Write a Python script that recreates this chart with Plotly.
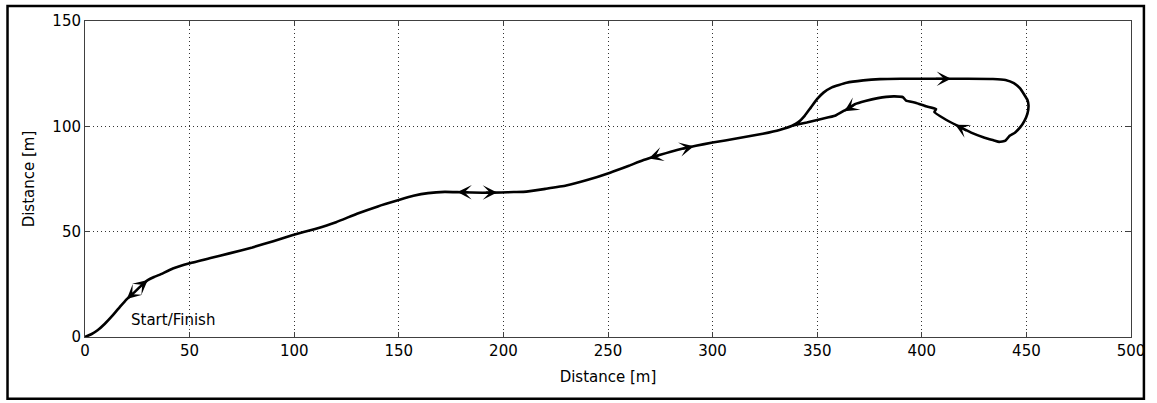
import plotly.graph_objects as go

# Shared outbound/return track (Start -> junction near the loop)
shared_x = [0, 3, 6, 9.5, 13, 16.6, 20, 23.7, 27, 30, 33, 35.6, 42, 50, 60, 69, 80, 90, 99,
            110, 120, 130, 140, 150, 157, 164, 172, 180, 190, 199, 205, 211, 220, 230, 240,
            251, 260, 267, 275, 283, 292, 300, 312, 324, 332, 338]
shared_y = [0, 1.3, 3.2, 6.3, 10, 14.2, 18, 21.3, 24.5, 27, 28.5, 29.5, 32.5, 35, 37.5, 39.7,
            42.5, 45.5, 48.3, 51.3, 54.5, 58.5, 62, 65, 67, 68.3, 68.9, 68.7, 68.5, 68.6, 68.8,
            69, 70.3, 71.9, 74.5, 78, 81.3, 84, 86.5, 88.8, 90.8, 92.3, 94.3, 96.5, 98.3, 100.3]

# Upper loop (outbound, clockwise)
loop_x = [341, 344, 347, 350, 353, 357, 364, 372, 380, 390, 400, 411, 422, 434, 440, 444,
          447, 449, 450.5, 451, 450.5, 449, 447, 444.5, 442, 440]
loop_y = [102, 105, 109, 113, 116, 118.5, 120.7, 121.8, 122.4, 122.6, 122.6, 122.6, 122.6,
          122.5, 122, 120.5, 118, 115, 112.5, 110, 106, 102.5, 99.5, 97, 95.5, 93.2]

# Lower return branch back to the junction
ret_x = [437, 434.5, 430, 423.6, 417, 410.8, 406, 406.8, 402, 397, 392.5, 391, 387, 383, 379,
         373, 368, 363, 358.5, 352, 345, 338]
ret_y = [92.6, 93.3, 94.6, 97, 100.3, 103.6, 106.8, 108.2, 109.5, 111.2, 112.2, 113.8, 114.2,
         114, 113.4, 112, 110.5, 107.5, 105, 103.5, 101.8, 100.3]

# Direction arrows (tip and short tail along the track, data units)
arrow_tip_x = [20, 30, 178, 197, 269.5, 291, 414, 416, 363]
arrow_tip_y = [18, 27, 68.8, 68.6, 84.7, 90.6, 122.6, 100.8, 107.2]
arrow_tail_x = [23.7, 27, 184, 191, 275, 285, 406, 422, 368]
arrow_tail_y = [21.3, 24.5, 68.7, 68.6, 86.5, 89.2, 122.6, 97.6, 110.3]

x_ticks = [0, 50, 100, 150, 200, 250, 300, 350, 400, 450, 500]
y_ticks = [0, 50, 100, 150]

path_x = shared_x + loop_x + ret_x + shared_x[::-1]
path_y = shared_y + loop_y + ret_y + shared_y[::-1]

fig = go.Figure()
fig.add_trace(go.Scatter(x=path_x, y=path_y, mode="lines",
                         line=dict(color="black", width=2.6, shape="spline", smoothing=0.4),
                         hoverinfo="skip", showlegend=False))

for tx, ty, sx, sy in zip(arrow_tip_x, arrow_tip_y, arrow_tail_x, arrow_tail_y):
    fig.add_annotation(x=tx, y=ty, ax=sx, ay=sy, xref="x", yref="y", axref="x", ayref="y",
                       text="", showarrow=True, arrowhead=3, arrowsize=1.2,
                       arrowwidth=2, arrowcolor="black")

font = dict(family="DejaVu Sans", size=15, color="black")

fig.add_annotation(x=42, y=8, xref="x", yref="y", text="Start/Finish", showarrow=False,
                   font=font)

axis_common = dict(showline=True, linecolor="#404040", linewidth=1, mirror="ticks",
                   ticks="inside", ticklen=5, tickcolor="#404040", showgrid=True,
                   gridcolor="#333333", gridwidth=1, griddash="1px,3px", zeroline=False,
                   tickfont=font)

fig.update_xaxes(range=[0, 500], tickvals=x_ticks, ticktext=[str(v) for v in x_ticks],
                 title=dict(text="Distance [m]", font=font, standoff=12), **axis_common)
fig.update_yaxes(range=[0, 150], tickvals=y_ticks, ticktext=[str(v) for v in y_ticks],
                 title=dict(text="Distance [m]", font=font, standoff=14), **axis_common)

fig.add_shape(type="rect", xref="paper", yref="paper",
              x0=(7 - 85) / 1053, x1=(1151 - 85) / 1053,
              y0=(337 - 399) / 317, y1=(337 - 5) / 317,
              line=dict(color="black", width=2.5), fillcolor="rgba(0,0,0,0)", layer="below")

fig.update_layout(width=1157, height=403, margin=dict(l=85, r=19, t=20, b=66),
                  plot_bgcolor="white", paper_bgcolor="white", font=font)

fig.write_html("out.html")
